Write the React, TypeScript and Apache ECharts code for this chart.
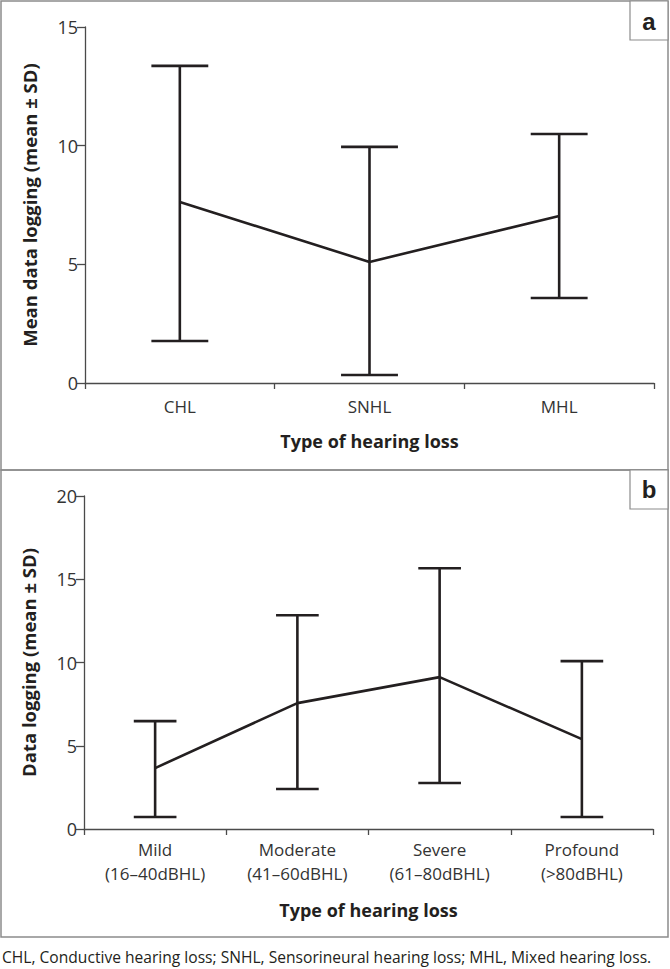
import React, { useEffect, useRef } from "react";
import * as echarts from "echarts";

const categoriesA = ["CHL", "SNHL", "MHL"];
const meanA = [7.63, 5.1, 7.04];
const lowA = [1.77, 0.34, 3.58];
const highA = [13.36, 9.95, 10.49];

const categoriesB = [
  "Mild\n(16–40dBHL)",
  "Moderate\n(41–60dBHL)",
  "Severe\n(61–80dBHL)",
  "Profound\n(>80dBHL)",
];
const meanB = [3.66, 7.56, 9.12, 5.4];
const lowB = [0.72, 2.4, 2.76, 0.72];
const highB = [6.48, 12.84, 15.66, 10.08];

const yTitleA = "Mean data logging (mean ± SD)";
const yTitleB = "Data logging (mean ± SD)";
const xTitle = "Type of hearing loss";
const caption =
  "CHL, Conductive hearing loss; SNHL, Sensorineural hearing loss; MHL, Mixed hearing loss.";

const FONT = "'Open Sans', 'Noto Sans', sans-serif";
const INK = "#231f20";
const AXIS = "#4a4a4a";
const BORDER = "#8c8c8c";

function errorRender(params: any, api: any) {
  const x = api.value(0);
  const lo = api.coord([x, api.value(1)]);
  const hi = api.coord([x, api.value(2)]);
  const half = api.size([1, 0])[0] * 0.15;
  const style = { stroke: INK, lineWidth: 2.6, fill: "none" };
  return {
    type: "group",
    children: [
      { type: "line", shape: { x1: lo[0], y1: lo[1], x2: hi[0], y2: hi[1] }, style },
      { type: "line", shape: { x1: hi[0] - half, y1: hi[1], x2: hi[0] + half, y2: hi[1] }, style },
      { type: "line", shape: { x1: lo[0] - half, y1: lo[1], x2: lo[0] + half, y2: lo[1] }, style },
    ],
  };
}

export default function App() {
  const ref = useRef<HTMLDivElement>(null);
  useEffect(() => {
    if (!ref.current) return;
    const chart = echarts.init(ref.current, null, { renderer: "svg" });
    const xAxisCommon = (idx: number, data: string[], nameGap: number, margin: number) => ({
      type: "category",
      gridIndex: idx,
      data,
      boundaryGap: true,
      name: xTitle,
      nameLocation: "middle",
      nameGap,
      nameTextStyle: { fontFamily: FONT, fontSize: 18, fontWeight: "bold", color: INK },
      axisLine: { lineStyle: { color: AXIS, width: 1.3 } },
      axisTick: { show: true, length: 6, lineStyle: { color: AXIS, width: 1.3 } },
      axisLabel: {
        fontFamily: FONT,
        fontSize: 17,
        color: "#333",
        margin,
        lineHeight: 24,
        interval: 0,
      },
      splitLine: { show: false },
    });
    const yAxisCommon = (idx: number, max: number, name: string) => ({
      type: "value",
      gridIndex: idx,
      min: 0,
      max,
      interval: 5,
      name,
      nameLocation: "middle",
      nameGap: 46,
      nameTextStyle: { fontFamily: FONT, fontSize: 18.5, fontWeight: "bold", color: INK },
      axisLine: { show: true, lineStyle: { color: AXIS, width: 1.3 } },
      axisTick: { show: true, length: 8, lineStyle: { color: AXIS, width: 1.3 } },
      axisLabel: { fontFamily: FONT, fontSize: 18, color: "#333", margin: 7 },
      splitLine: { show: false },
    });
    chart.setOption({
      animation: false,
      backgroundColor: "#ffffff",
      grid: [
        { left: 85, top: 27, width: 569, height: 356 },
        { left: 84, top: 496, width: 569, height: 333 },
      ],
      xAxis: [xAxisCommon(0, categoriesA, 49, 11), xAxisCommon(1, categoriesB, 72, 8)],
      yAxis: [yAxisCommon(0, 15, yTitleA), yAxisCommon(1, 20, yTitleB)],
      series: [
        {
          type: "custom",
          xAxisIndex: 0,
          yAxisIndex: 0,
          renderItem: errorRender,
          data: categoriesA.map((_, i) => [i, lowA[i], highA[i]]),
          z: 3,
        },
        {
          type: "line",
          xAxisIndex: 0,
          yAxisIndex: 0,
          data: meanA,
          symbol: "none",
          lineStyle: { color: INK, width: 2.6 },
          z: 4,
        },
        {
          type: "custom",
          xAxisIndex: 1,
          yAxisIndex: 1,
          renderItem: errorRender,
          data: categoriesB.map((_, i) => [i, lowB[i], highB[i]]),
          z: 3,
        },
        {
          type: "line",
          xAxisIndex: 1,
          yAxisIndex: 1,
          data: meanB,
          symbol: "none",
          lineStyle: { color: INK, width: 2.6 },
          z: 4,
        },
      ],
      graphic: [
        {
          type: "rect",
          shape: { x: 1, y: 1, width: 667, height: 469 },
          style: { fill: "none", stroke: BORDER, lineWidth: 1.5 },
        },
        {
          type: "rect",
          shape: { x: 1, y: 470, width: 667, height: 467 },
          style: { fill: "none", stroke: BORDER, lineWidth: 1.5 },
        },
        {
          type: "rect",
          shape: { x: 630, y: 1, width: 38, height: 39 },
          style: { fill: "#fff", stroke: BORDER, lineWidth: 1.2 },
        },
        {
          type: "rect",
          shape: { x: 630, y: 470, width: 38, height: 39 },
          style: { fill: "#fff", stroke: BORDER, lineWidth: 1.2 },
        },
        {
          type: "text",
          x: 649,
          y: 21,
          style: {
            text: "a",
            fontFamily: "'Liberation Sans', Arial, sans-serif",
            fontSize: 24,
            fontWeight: "bold",
            fill: INK,
            align: "center",
            verticalAlign: "middle",
          },
        },
        {
          type: "text",
          x: 649,
          y: 489,
          style: {
            text: "b",
            fontFamily: "'Liberation Sans', Arial, sans-serif",
            fontSize: 24,
            fontWeight: "bold",
            fill: INK,
            align: "center",
            verticalAlign: "middle",
          },
        },
        {
          type: "text",
          x: 2,
          y: 957,
          style: {
            text: caption,
            fontFamily: FONT,
            fontSize: 15.6,
            fill: INK,
            align: "left",
            verticalAlign: "middle",
          },
        },
      ],
    });
    return () => chart.dispose();
  }, []);
  return (
    <div
      ref={ref}
      style={{ position: "absolute", left: 0, top: 0, width: 670, height: 969 }}
    />
  );
}
